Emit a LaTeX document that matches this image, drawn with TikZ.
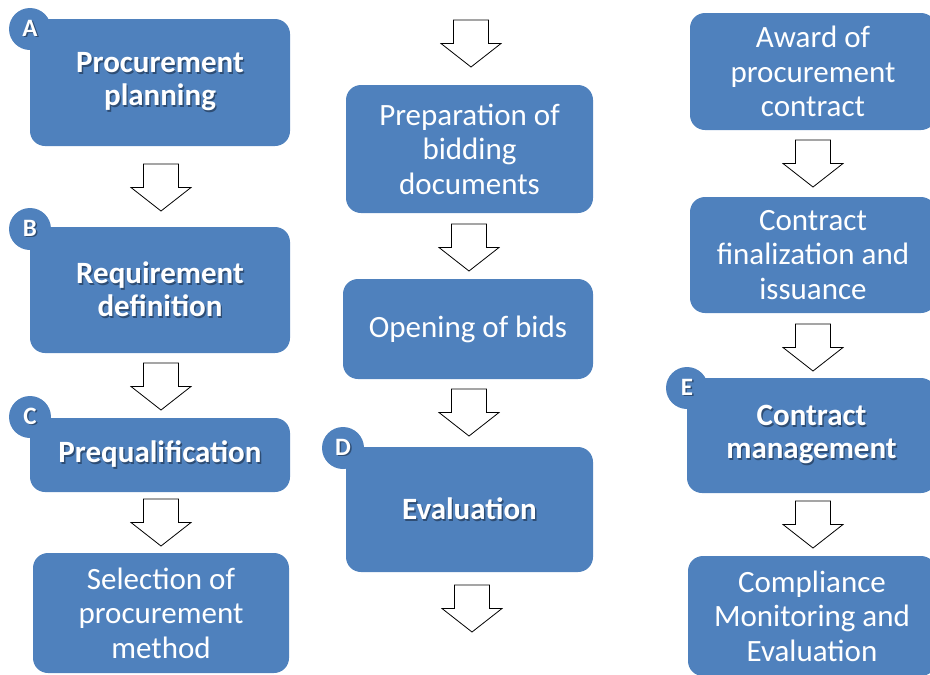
\documentclass[tikz,border=0pt]{standalone}
\usepackage{fontspec}
\setmainfont{Carlito}
\definecolor{boxblue}{HTML}{4F81BD}
\definecolor{shadowblue}{HTML}{2E4D74}
\newcommand{\shadowed}[1]{\makebox[0pt][l]{\hspace{1.4pt}\raisebox{-1.6pt}{\textcolor{shadowblue}{#1}}}#1}

\begin{document}
\begin{tikzpicture}[x=1pt,y=-1pt,
    box/.style={fill=boxblue, rounded corners=15pt, text=white, align=center, inner sep=0pt, font=\fontsize{31}{34.5}\selectfont},
    boldbox/.style={box, font=\fontsize{31}{33}\selectfont\bfseries},
    badge/.style={circle, fill=boxblue, minimum size=42pt, inner sep=0pt, text=white, font=\fontsize{25}{25}\selectfont\bfseries},
    arrowline/.style={draw=black, fill=white, line width=0.8pt, line join=miter},
    blockarrow/.pic={\path[arrowline] (-17.5,0) -- (17.5,0) -- (17.5,23.5) -- (30,23.5) -- (0,47) -- (-30,23.5) -- (-17.5,23.5) -- cycle;}]
        \useasboundingbox (0,0) rectangle (930,675);
        \clip (0,0) rectangle (930,675);

        % first column
        \node[boldbox, minimum width=260pt, minimum height=127pt] (a1) at (160,82.5) {\shadowed{Procurement}\\\shadowed{planning}};
        \node[badge] (ba) at (30,29) {\shadowed{A}};
        \pic (pa1) at (161,164) {blockarrow};
        \node[boldbox, minimum width=260pt, minimum height=126pt] (a2) at (160,290) {\shadowed{Requirement}\\\shadowed{definition}};
        \node[badge] (bb) at (30,229) {\shadowed{B}};
        \pic (pa2) at (161,363) {blockarrow};
        \node[boldbox, minimum width=260pt, minimum height=74pt] (a3) at (160,455) {\shadowed{Prequalification}};
        \node[badge] (bc) at (30,417) {\shadowed{C}};
        \pic (pa3) at (161,499) {blockarrow};
        \node[box, minimum width=256pt, minimum height=120pt] (a4) at (161,613) {Selection of\\procurement\\method};

        % second column
        \pic (pb0) at (471,20) {blockarrow};
        \node[box, minimum width=247pt, minimum height=128pt] (b1) at (469.5,149) {Preparation of\\bidding\\documents};
        \pic (pb1) at (469,224) {blockarrow};
        \node[box, minimum width=250pt, minimum height=100pt] (b2) at (468,329) {Opening of bids};
        \pic (pb2) at (469,389) {blockarrow};
        \node[boldbox, minimum width=247pt, minimum height=125pt] (b3) at (469.5,509.5) {\shadowed{Evaluation}};
        \node[badge] (bd) at (343,448) {\shadowed{D}};
        \pic (pb3) at (472,585) {blockarrow};

        % third column
        \node[box, minimum width=246pt, minimum height=117pt] (c1) at (813,71.5) {Award of\\procurement\\contract};
        \pic (pc1) at (813,140) {blockarrow};
        \node[box, minimum width=246pt, minimum height=116pt] (c2) at (813,255) {Contract\\finalization and\\issuance};
        \pic (pc2) at (813,324) {blockarrow};
        \node[boldbox, minimum width=249pt, minimum height=115pt] (c3) at (811.5,435.5) {\shadowed{Contract}\\\shadowed{management}};
        \node[badge] (be) at (687,388) {\shadowed{E}};
        \pic (pc3) at (813,501) {blockarrow};
        \node[box, minimum width=248pt, minimum height=120pt] (c4) at (812,616) {Compliance\\Monitoring and\\Evaluation};
    \end{tikzpicture}
\end{document}
